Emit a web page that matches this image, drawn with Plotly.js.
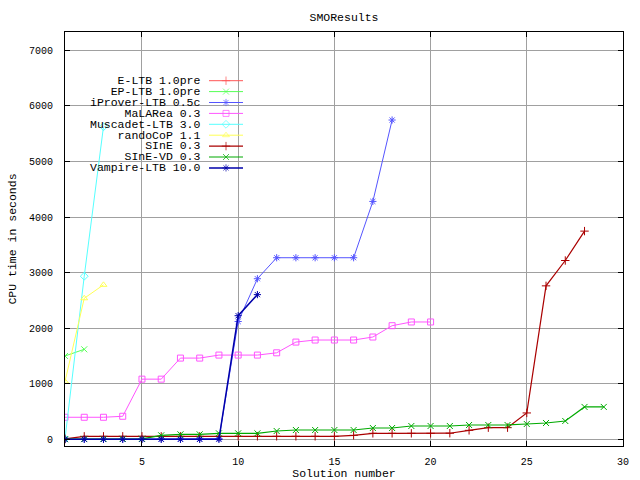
<!DOCTYPE html>
<html>
<head>
<meta charset="utf-8">
<script src="https://cdn.plot.ly/plotly-3.0.1.min.js"></script>
<style>html,body{margin:0;padding:0;background:#fff}#chart{width:640px;height:480px}</style>
</head>
<body>
<div id="chart"></div>
<script>
// ---- data ----
const seriesNames = ["E-LTB 1.0pre","EP-LTB 1.0pre","iProver-LTB 0.5c","MaLARea 0.3","Muscadet-LTB 3.0","randoCoP 1.1","SInE 0.3","SInE-VD 0.3","Vampire-LTB 10.0"];

const eltbX = [1];
const eltbY = [0];

const epltbX = [1,2];
const epltbY = [1500,1620];

const iproverX = [1,2,3,4,5,6,7,8,9,10,11,12,13,14,15,16,17,18];
const iproverY = [2,3,3,4,5,6,7,8,12,2120,2890,3268,3268,3268,3268,3268,4281,5746];

const malareaX = [1,2,3,4,5,6,7,8,9,10,11,12,13,14,15,16,17,18,19,20];
const malareaY = [397,397,397,415,1083,1083,1462,1462,1516,1516,1516,1557,1750,1787,1787,1787,1841,2045,2112,2112];

const muscadetX = [1,2,3];
const muscadetY = [10,2935,5625];

const randocopX = [1,2,3];
const randocopY = [1040,2538,2780];

const sineX = [1,2,3,4,5,6,7,8,9,10,11,12,13,14,15,16,17,18,19,20,21,22,23,24,25,26,27,28];
const sineY = [10,54,54,54,54,54,54,54,54,54,54,54,54,54,54,72,108,108,108,108,110,162,210,210,475,2762,3218,3747];

const sinevdX = [1,2,3,4,5,6,7,8,9,10,11,12,13,14,15,16,17,18,19,20,21,22,23,24,25,26,27,28,29];
const sinevdY = [2,4,5,8,10,72,90,90,108,108,108,150,168,168,168,168,204,204,240,240,240,258,258,258,276,294,330,583,583];

const vampireX = [1,2,3,4,5,6,7,8,9,10,11];
const vampireY = [0,0,0,0,0,0,0,0,0,2225,2604];

const xTickVals = [5,10,15,20,25,30];
const yTickVals = [0,1000,2000,3000,4000,5000,6000,7000];

// ---- styles ----
const colors = ["#ff5555","#55ff55","#5555ff","#ff55ff","#55ffff","#ffff55","#aa0000","#00aa00","#0000aa"];
const symbols = ["cross-thin-open","x-thin-open","asterisk-open","square-open","diamond-open","triangle-up-open","cross-thin-open","x-thin-open","asterisk-open"];
const widths = [1,1,1,1,1,1,1.2,1.2,1.5];
const xs = [eltbX,epltbX,iproverX,malareaX,muscadetX,randocopX,sineX,sinevdX,vampireX];
const ys = [eltbY,epltbY,iproverY,malareaY,muscadetY,randocopY,sineY,sinevdY,vampireY];

const FONT = "Liberation Mono, DejaVu Sans Mono, monospace";
const W = 640, H = 480;
const L = 65, R = 623, T = 32, B = 446;
const MS = 6;

const traces = [];
for (let i = 0; i < seriesNames.length; i++) {
  traces.push({
    type: "scatter", mode: "lines+markers", name: seriesNames[i],
    x: xs[i], y: ys[i], showlegend: false,
    line: {color: colors[i], width: widths[i]},
    marker: {symbol: symbols[i], size: MS, color: colors[i], line: {color: colors[i], width: 1}}
  });
}

// custom gnuplot-style legend (text left, sample right)
const legTextRight = 202, legLine0 = 209, legLine1 = 243, legRow0 = 80.7, legStep = 10.9;
const px2paperX = p => (p - L) / (R - L);
const px2paperY = p => (B - p) / (B - T);
for (let i = 0; i < seriesNames.length; i++) {
  const yy = legRow0 + i * legStep;
  traces.push({
    type: "scatter", mode: "lines+markers", xaxis: "x2", yaxis: "y2", showlegend: false, hoverinfo: "skip",
    x: [legLine0, (legLine0 + legLine1) / 2, legLine1], y: [yy, yy, yy],
    line: {color: colors[i], width: widths[i]},
    marker: {symbol: symbols[i], size: [0, MS, 0], color: colors[i], line: {color: colors[i], width: 1}}
  });
}
// one multi-line text block; line pitch = 1.3 * base size = legStep
const legendText = seriesNames.map(n => '<span style="font-size:11.5px">' + n + '</span>').join('<br>');
const legMid = legRow0 + (seriesNames.length - 1) / 2 * legStep;
const annotations = [{
  xref: "paper", yref: "paper", x: px2paperX(legTextRight), y: px2paperY(legMid),
  xanchor: "right", yanchor: "middle", align: "right", showarrow: false, text: legendText,
  font: {family: FONT, size: legStep / 1.3, color: "#000"}, borderpad: 0
}];

const axisCommon = {
  showline: true, linecolor: "#000", linewidth: 1, mirror: "ticks",
  ticks: "inside", ticklen: 5, tickcolor: "#000", tickwidth: 1,
  showgrid: true, gridcolor: "#a0a0a0", gridwidth: 1, zeroline: false,
  tickfont: {family: FONT, size: 10, color: "#000"}
};

const layout = {
  width: W, height: H,
  margin: {l: L, r: W - R, t: T, b: H - B, pad: 0},
  paper_bgcolor: "#fff", plot_bgcolor: "#fff",
  showlegend: false,
  title: {text: "SMOResults", font: {family: FONT, size: 11.5, color: "#000"}, x: (L + R) / 2 / W, xref: "container", xanchor: "center", y: 1 - 17 / H, yref: "container", yanchor: "middle"},
  xaxis: Object.assign({}, axisCommon, {
    range: [1, 30], tickvals: xTickVals, ticktext: xTickVals.map(String), ticklabelstandoff: 6,
    title: {text: "Solution number", font: {family: FONT, size: 11.5, color: "#000"}, standoff: 4}
  }),
  yaxis: Object.assign({}, axisCommon, {
    range: [-120, 7330], tickvals: yTickVals, ticktext: yTickVals.map(String), ticklabelstandoff: 9,
    title: {text: "CPU time in seconds", font: {family: FONT, size: 11.5, color: "#000"}, standoff: 9}
  }),
  xaxis2: {overlaying: "x", range: [L, R], visible: false, fixedrange: true},
  yaxis2: {overlaying: "y", range: [B, T], visible: false, fixedrange: true},
  shapes: [{
    type: "rect", xref: "paper", yref: "paper", layer: "between",
    x0: px2paperX(90), x1: px2paperX(249), y0: px2paperY(174), y1: px2paperY(70),
    fillcolor: "#fff", line: {width: 0}
  }],
  annotations: annotations
};

Plotly.newPlot("chart", traces, layout, {staticPlot: true, displayModeBar: false});
</script>
</body>
</html>
